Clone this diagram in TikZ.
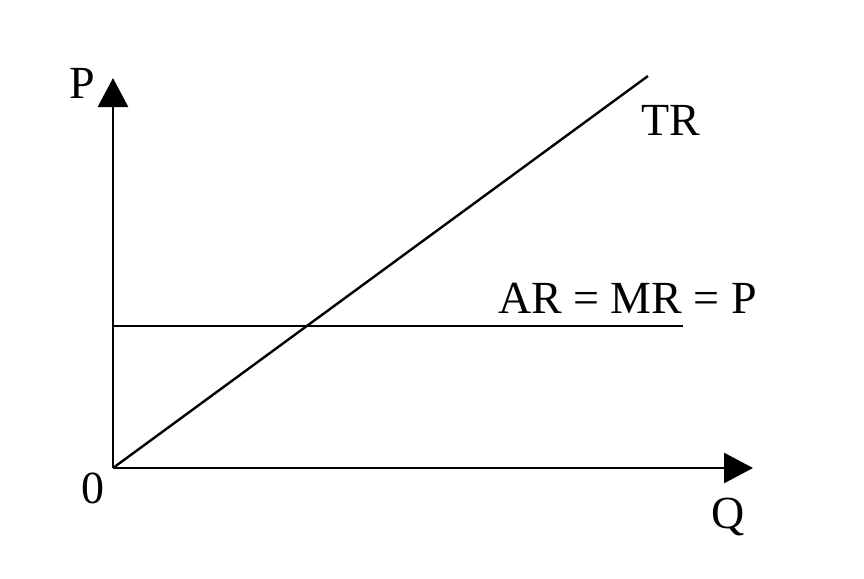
\documentclass[tikz,border=0pt]{standalone}
\usepackage{fontspec}
\setmainfont{Liberation Serif}
\usetikzlibrary{arrows.meta}

\begin{document}
\begin{tikzpicture}[x=0.5pt, y=-0.5pt,
    axis/.style = {line width=1.4pt, -{Triangle[length=14.5pt, width=15pt]}},
    curve/.style = {line width=1.2pt},
    lbl/.style = {inner sep=0pt, anchor=base, font=\fontsize{23}{27}\selectfont}]
\useasboundingbox (0,0) rectangle (864,579);
\coordinate (O) at (113,468);
\coordinate (Ptop) at (113,78);
\coordinate (Qend) at (753,468);
\coordinate (TRend) at (648,76);
\coordinate (ARstart) at (113,326);
\coordinate (ARend) at (683,326);
\draw[axis] (O) -- (Ptop);
\draw[axis] (O) -- (Qend);
\draw[curve] (O) -- (TRend);
\draw[curve] (ARstart) -- (ARend);
\node[lbl] (p) at (82.5,98) {P};
\node[lbl] (q) at (728,528) {Q};
\node[lbl] (zero) at (93.5,503) {0};
\node[lbl] (tr) at (670.5,135) {TR};
\node[lbl] (ar) at (627.5,313) {AR = MR = P};
\end{tikzpicture}
\end{document}
